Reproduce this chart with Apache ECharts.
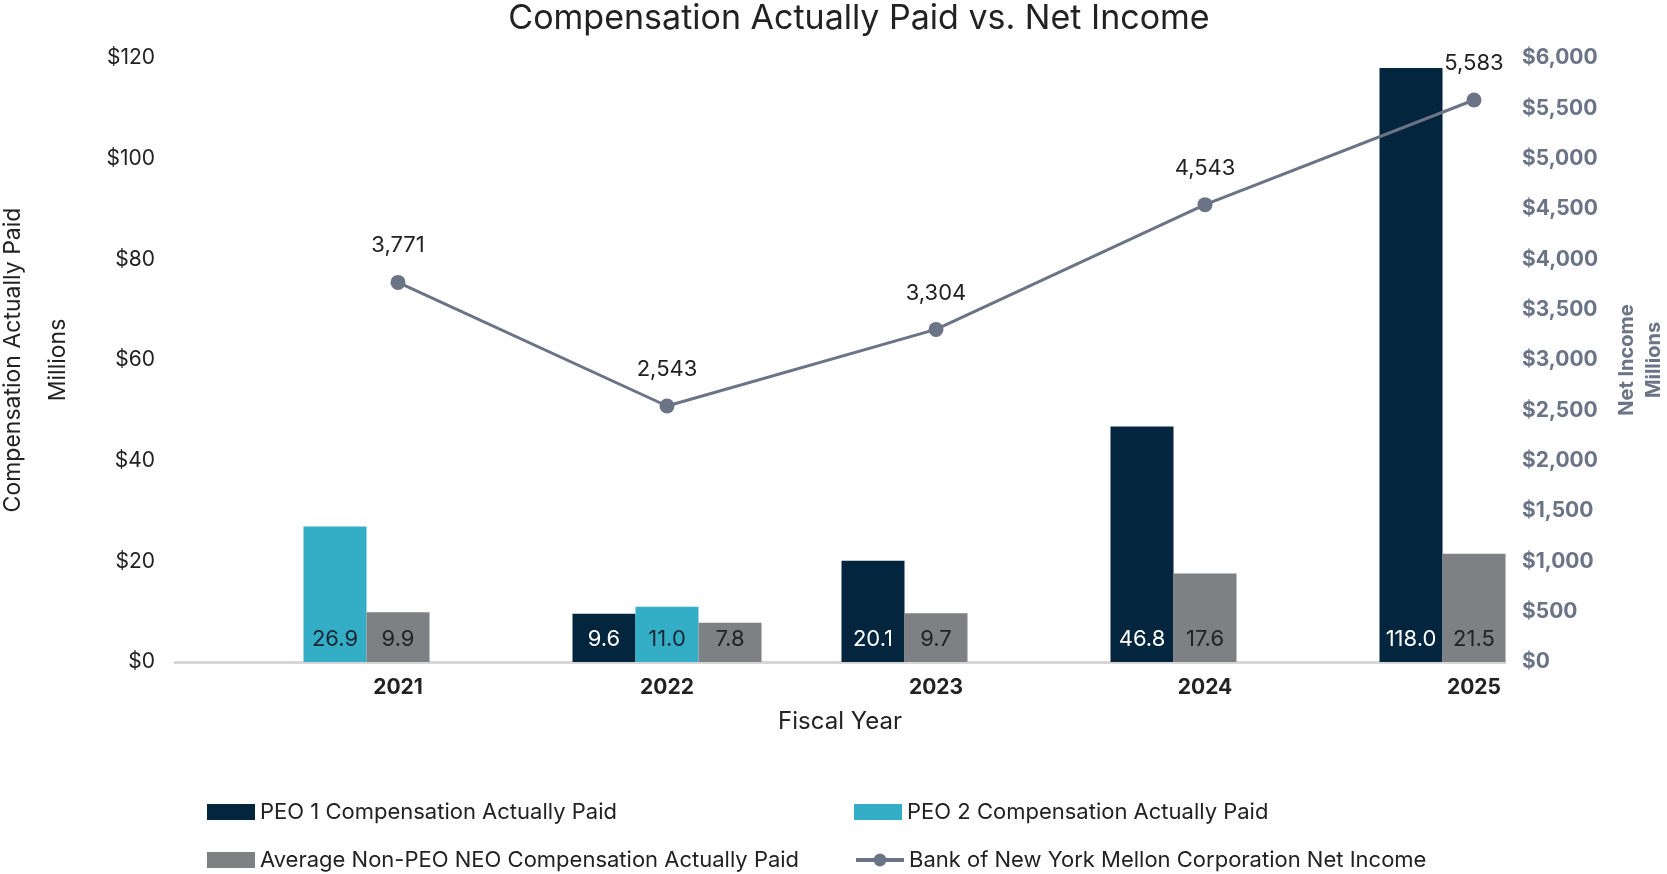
<!DOCTYPE html>
<html>
<head>
<meta charset="utf-8">
<script src="https://cdn.jsdelivr.net/npm/echarts@6/dist/echarts.min.js"></script>
<style>
html,body{margin:0;padding:0;background:#fff;}
#chart{width:1667px;height:874px;}
</style>
</head>
<body>
<div id="chart"></div>
<script>
const categories = ['2021', '2022', '2023', '2024', '2025'];
const peo1Cap = [null, 9.6, 20.1, 46.8, 118.0];
const peo2Cap = [26.9, 11.0, null, null, null];
const neoCap = [9.9, 7.8, 9.7, 17.6, 21.5];
const netIncome = [3771, 2543, 3304, 4543, 5583];
const leftTicks = [0, 20, 40, 60, 80, 100, 120];
const rightTicks = [0, 500, 1000, 1500, 2000, 2500, 3000, 3500, 4000, 4500, 5000, 5500, 6000];

const FONT = 'Inter, "Noto Sans", sans-serif';
const C_PEO1 = '#03253d';
const C_PEO2 = '#34aec7';
const C_NEO = '#7f8084';
const C_LINE = '#6b7386';
const TXT = '#222222';

const barSeriesDefs = [
  { name: 'PEO 1 Compensation Actually Paid', values: peo1Cap, color: C_PEO1, labelColor: '#ffffff' },
  { name: 'PEO 2 Compensation Actually Paid', values: peo2Cap, color: C_PEO2, labelColor: '#1c2733' },
  { name: 'Average Non-PEO NEO Compensation Actually Paid', values: neoCap, color: C_NEO, labelColor: '#222222' }
];

// slot index of a series inside a category: bars fill slots from the left, skipping empty series
function slotIndex(cat, sIdx) {
  let k = 0;
  for (let s = 0; s < sIdx; s++) {
    if (barSeriesDefs[s].values[cat] != null) k++;
  }
  return k;
}

const BAR_RATIO = 63 / 269;

function makeRender(sIdx, labelColor) {
  return function (params, api) {
    const cat = api.value(0);
    const val = api.value(1);
    const slot = slotIndex(cat, sIdx);
    const base = api.coord([cat, 0]);
    const top = api.coord([cat, val]);
    const band = api.size([1, 0])[0];
    const w = band * BAR_RATIO;
    const x = base[0] + (slot - 1) * w - w / 2;
    return {
      type: 'rect',
      shape: { x: x, y: top[1], width: w, height: base[1] - top[1] },
      style: api.style({ fill: barSeriesDefs[sIdx].color }),
      textContent: {
        type: 'text',
        style: { text: val.toFixed(1), fill: labelColor, font: '22px ' + FONT }
      },
      textConfig: { position: 'insideBottom', distance: 12 }
    };
  };
}

const barSeries = barSeriesDefs.map((d, sIdx) => ({
  name: d.name,
  type: 'custom',
  xAxisIndex: 1,
  yAxisIndex: 2,
  itemStyle: { color: d.color },
  renderItem: makeRender(sIdx, d.labelColor),
  data: d.values.map((v, i) => (v == null ? null : [i, v])).filter(x => x != null),
  encode: { x: 0, y: 1 },
  z: 2
}));

const chart = echarts.init(document.getElementById('chart'), null, { renderer: 'canvas' });

const legendBase = {
  itemWidth: 48,
  itemHeight: 16,
  itemGap: 6,
  textStyle: { fontFamily: FONT, fontSize: 22, color: TXT },
  padding: 0,
  selectedMode: false
};

chart.setOption({
  animation: false,
  backgroundColor: '#ffffff',
  title: {
    text: 'Compensation Actually Paid vs. Net Income',
    left: 859,
    textAlign: 'center',
    top: 2,
    padding: 0,
    textStyle: { fontFamily: FONT, fontSize: 34, fontWeight: 'normal', color: TXT }
  },
  legend: [
    Object.assign({}, legendBase, { left: 207, top: 801, data: [{ name: barSeriesDefs[0].name, icon: 'rect' }] }),
    Object.assign({}, legendBase, { left: 854, top: 801, data: [{ name: barSeriesDefs[1].name, icon: 'rect' }] }),
    Object.assign({}, legendBase, { left: 207, top: 849, data: [{ name: barSeriesDefs[2].name, icon: 'rect' }] }),
    Object.assign({}, legendBase, { left: 854, top: 849, lineStyle: { width: 4 },
      data: [{ name: 'Bank of New York Mellon Corporation Net Income' }] })
  ],
  grid: [
    { left: 175, right: 162, top: 58, bottom: 212, containLabel: false, outerBoundsMode: 'none' },
    { left: 263.5, right: 58.5, top: 58, bottom: 212, containLabel: false, outerBoundsMode: 'none' }
  ],
  xAxis: [
    {
      gridIndex: 0,
      type: 'value',
      min: 0,
      max: 1,
      axisLine: { show: true, lineStyle: { color: '#d6d6d6', width: 3 } },
      axisTick: { show: false },
      axisLabel: { show: false },
      splitLine: { show: false },
      name: 'Fiscal Year',
      nameLocation: 'middle',
      nameGap: 48,
      nameTextStyle: { fontFamily: FONT, fontSize: 24, color: TXT }
    },
    {
      gridIndex: 1,
      type: 'category',
      data: categories,
      axisLine: { show: false },
      axisTick: { show: false },
      axisLabel: { fontFamily: FONT, fontSize: 21, fontWeight: 'bold', color: TXT, margin: 15 },
      splitLine: { show: false }
    }
  ],
  yAxis: [
    {
      gridIndex: 0,
      type: 'value',
      position: 'left',
      min: leftTicks[0],
      max: leftTicks[leftTicks.length - 1],
      interval: leftTicks[1] - leftTicks[0],
      axisLine: { show: false },
      axisTick: { show: false },
      splitLine: { show: false },
      axisLabel: { fontFamily: FONT, fontSize: 21, color: TXT, margin: 20, formatter: v => '$' + v },
      name: 'Compensation Actually Paid\nMillions',
      nameLocation: 'middle',
      nameGap: 94,
      nameTextStyle: { fontFamily: FONT, fontSize: 23, color: TXT, lineHeight: 45 }
    },
    {
      gridIndex: 0,
      type: 'value',
      position: 'right',
      min: rightTicks[0],
      max: rightTicks[rightTicks.length - 1],
      interval: rightTicks[1] - rightTicks[0],
      axisLine: { show: false },
      axisTick: { show: false },
      splitLine: { show: false },
      axisLabel: { fontFamily: FONT, fontSize: 21, fontWeight: 'bold', color: C_LINE, margin: 17,
        formatter: v => '$' + v.toLocaleString('en-US') },
      name: 'Net Income\nMillions',
      nameLocation: 'middle',
      nameGap: 108,
      nameTextStyle: { fontFamily: FONT, fontSize: 20, fontWeight: 'bold', color: C_LINE, lineHeight: 27 }
    },
    { gridIndex: 1, type: 'value', show: false, min: leftTicks[0], max: leftTicks[leftTicks.length - 1], splitLine: { show: false } },
    { gridIndex: 1, type: 'value', show: false, min: rightTicks[0], max: rightTicks[rightTicks.length - 1], splitLine: { show: false } }
  ],
  series: barSeries.concat([
    {
      name: 'Bank of New York Mellon Corporation Net Income',
      type: 'line',
      xAxisIndex: 1,
      yAxisIndex: 3,
      data: netIncome,
      symbol: 'circle',
      symbolSize: 15,
      lineStyle: { color: C_LINE, width: 3 },
      itemStyle: { color: C_LINE },
      label: {
        show: true,
        position: 'top',
        distance: 18,
        fontFamily: FONT,
        fontSize: 22,
        color: TXT,
        formatter: p => p.value.toLocaleString('en-US')
      },
      z: 5
    }
  ])
});
</script>
</body>
</html>
